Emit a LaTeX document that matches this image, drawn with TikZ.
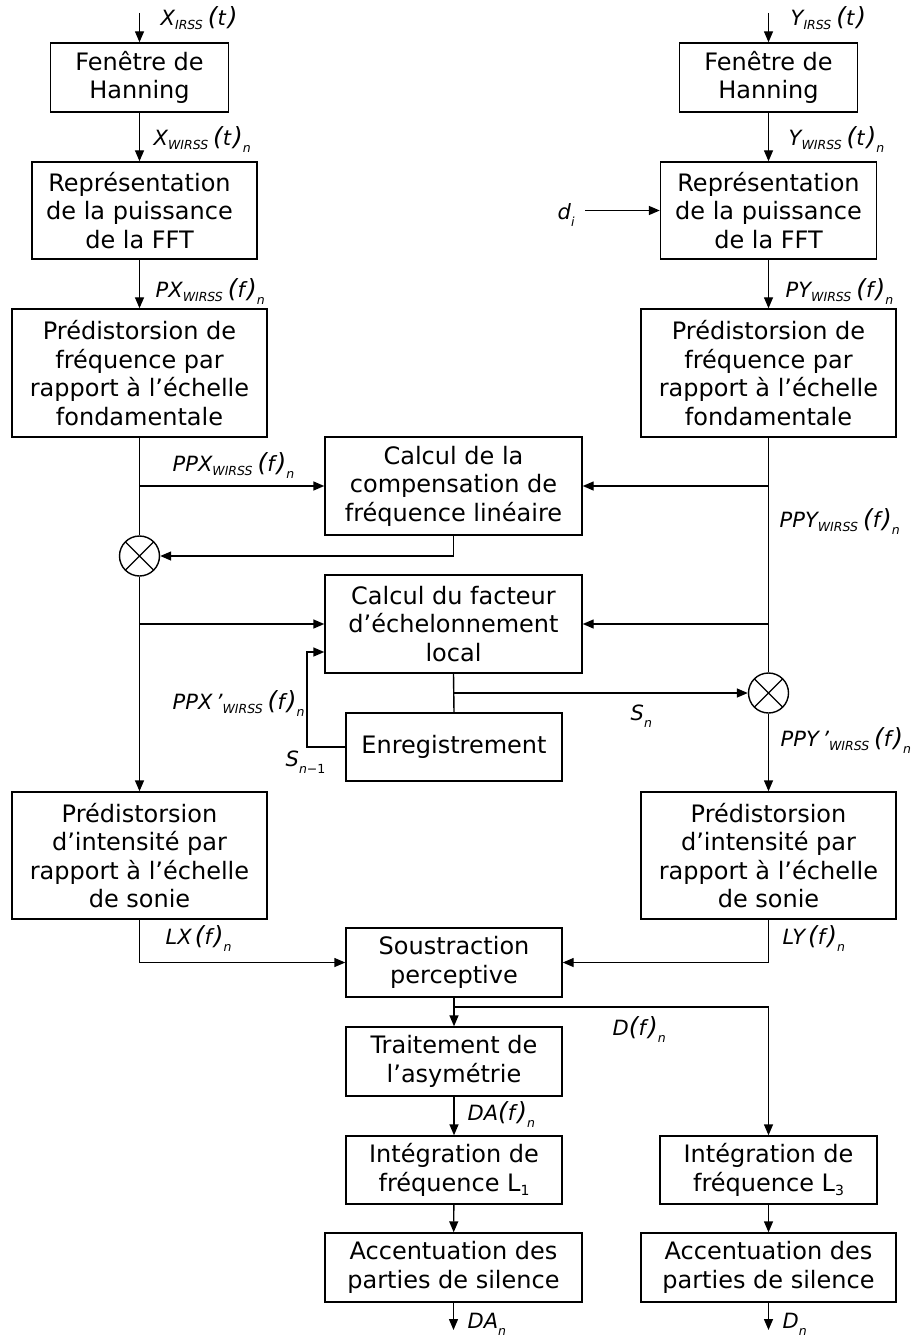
\documentclass[tikz,border=0pt]{standalone}
\usepackage{fontspec}
\setmainfont{DejaVu Sans}
\usetikzlibrary{arrows.meta}
\newcommand{\sbx}[1]{\raisebox{-4pt}{\fontsize{12.5}{12.5}\selectfont\itshape #1}}
\newcommand{\sbn}[1]{\raisebox{-7pt}{\fontsize{12.5}{12.5}\selectfont\itshape #1}}
\newcommand{\bpl}{{\fontsize{25}{25}\selectfont(}}
\newcommand{\bpr}{{\fontsize{25}{25}\selectfont)}}
\newcommand{\sig}[4]{#1\sbx{#2}\hspace{5pt}\bpl#3\hspace{2pt}\bpr\sbn{#4}}
\begin{document}
\begin{tikzpicture}[x=1pt,y=-1pt,line width=1.4pt,
  >={Triangle[length=11pt,width=9pt]},
  box/.style={draw,rectangle,align=center,inner sep=0pt,font=\fontsize{24}{28.5}\selectfont},
  lbl/.style={anchor=west,inner sep=0pt,font=\fontsize{21}{21}\selectfont\itshape},
  mul/.style={draw,circle,minimum size=40pt,inner sep=0pt,
    path picture={\draw[line width=1.3pt] (path picture bounding box.north west) -- (path picture bounding box.south east)
      (path picture bounding box.north east) -- (path picture bounding box.south west);}}]
\useasboundingbox (0,0) rectangle (911,1337);

% boxes
\node[box,minimum width=178pt,minimum height=69pt] (fenL) at (139.5,77.5) {Fenêtre de\\Hanning};
\node[box,minimum width=178pt,minimum height=69pt] (fenR) at (768.5,77.5) {Fenêtre de\\Hanning};
\node[box,minimum width=225pt,minimum height=97pt] (repL) at (144.5,210.5) {};
\node[align=center,inner sep=0pt,font=\fontsize{24}{28.5}\selectfont] (repLt) at (139.5,210.5) {Représentation\\de la puissance\\de la FFT};
\node[box,minimum width=216pt,minimum height=97pt] (repR) at (768.5,210.5) {Représentation\\de la puissance\\de la FFT};
\node[box,minimum width=255pt,minimum height=128pt] (preL) at (139.5,373) {Prédistorsion de\\fréquence par\\rapport à l’échelle\\fondamentale};
\node[box,minimum width=255pt,minimum height=128pt] (preR) at (768.5,373) {Prédistorsion de\\fréquence par\\rapport à l’échelle\\fondamentale};
\node[box,minimum width=257pt,minimum height=98pt] (comp) at (453.5,486) {Calcul de la\\compensation de\\fréquence linéaire};
\node[box,minimum width=257pt,minimum height=98pt] (fact) at (453.5,624) {Calcul du facteur\\d’échelonnement\\local};
\node[box,minimum width=216pt,minimum height=68pt] (enr) at (454,747) {Enregistrement};
\node[box,minimum width=255pt,minimum height=127pt] (intL) at (139.5,855.5) {Prédistorsion\\d’intensité par\\rapport à l’échelle\\de sonie};
\node[box,minimum width=255pt,minimum height=127pt] (intR) at (768.5,855.5) {Prédistorsion\\d’intensité par\\rapport à l’échelle\\de sonie};
\node[box,minimum width=216pt,minimum height=69pt] (sous) at (454,962.5) {Soustraction\\perceptive};
\node[box,minimum width=216pt,minimum height=69pt] (trait) at (454,1061.5) {Traitement de\\l’asymétrie};
\node[box,minimum width=216pt,minimum height=68pt] (igL) at (454,1170) {Intégration de\\fréquence L\raisebox{-4pt}{\fontsize{14}{14}\selectfont 1}};
\node[box,minimum width=217pt,minimum height=68pt] (igR) at (768.5,1170) {Intégration de\\fréquence L\raisebox{-4pt}{\fontsize{14}{14}\selectfont 3}};
\node[box,minimum width=257pt,minimum height=69pt] (accL) at (453.5,1267.5) {Accentuation des\\parties de silence};
\node[box,minimum width=255pt,minimum height=69pt] (accR) at (768.5,1267.5) {Accentuation des\\parties de silence};

% multipliers
\node[mul] (mulL) at (139.5,556) {};
\node[mul] (mulR) at (768.5,693) {};

% free ends
\coordinate (inL) at (139.5,13);
\coordinate (inR) at (768.5,13);
\coordinate (di) at (585,210.5);
\coordinate (bL1) at (139.5,486);
\coordinate (bL2) at (139.5,624);
\coordinate (bR1) at (768.5,486);
\coordinate (bR2) at (768.5,624);
\coordinate (bS) at (453.5,693);
\coordinate (fb) at (307,652);
\coordinate (bD) at (454,1007);
\coordinate (outL) at (453.5,1330);
\coordinate (outR) at (768.5,1330);

% connectors left
\draw[->] (inL) -- (fenL.north);
\draw[->] (fenL.south) -- (fenL.south |- repL.north);
\draw[->] (fenL.south |- repL.south) -- (preL.north);
\draw (preL.south) -- (mulL.north);
\draw[->] (bL1) -- (comp.west);
\draw[->] (comp.south) |- (mulL.east);
\draw[->] (mulL.south) -- (intL.north);
\draw[->] (bL2) -- (fact.west);
% right
\draw[->] (inR) -- (fenR.north);
\draw[->] (fenR) -- (repR);
\draw[->] (di) -- (repR.west);
\draw[->] (repR) -- (preR);
\draw (preR.south) -- (mulR.north);
\draw[->] (bR1) -- (comp.east);
\draw[->] (bR2) -- (fact.east);
\draw[->] (mulR.south) -- (intR.north);
% middle
\draw (fact.south) -- (enr.north);
\draw[->] (bS) -- (mulR.west);
\draw[->] (enr.west) -| (fb) -- (fb -| fact.west);
\draw[->] (intL.south) |- (sous.west);
\draw[->] (intR.south) |- (sous.east);
\draw[->] (sous.south) -- (trait.north);
\draw[->] (bD) -| (igR.north);
\draw[->] (trait) -- (igL);
\draw[->] (igL) -- (accL);
\draw[->] (accL.south) -- (outL);
\draw[->] (igR) -- (accR);
\draw[->] (accR.south) -- (outR);

% labels
\node[lbl] (l1) at (160,20) {\sig{X}{IRSS}{t}{}};
\node[lbl] (l2) at (790,20) {\sig{Y}{IRSS}{t}{}};
\node[lbl] (l3) at (153,140) {\sig{X}{WIRSS}{t}{n}};
\node[lbl] (l4) at (788,140) {\sig{Y}{WIRSS}{t}{n}};
\node[lbl] (l5) at (155,292) {\sig{PX}{WIRSS}{f}{n}};
\node[lbl] (l6) at (785,292) {\sig{PY}{WIRSS}{f}{n}};
\node[lbl] (l7) at (557,215) {d\sbn{i}};
\node[lbl] (l8) at (172,466) {\sig{PPX}{WIRSS}{f}{n}};
\node[lbl] (l9) at (779,522) {\sig{PPY}{WIRSS}{f}{n}};
\node[lbl] (l10) at (172,704) {\sig{PPX\,'}{WIRSS}{f}{n}};
\node[lbl] (l11) at (285,762) {S\sbn{n\upshape −1}};
\node[lbl] (l12) at (630,716) {S\sbn{n}};
\node[lbl] (l13) at (780,741) {\sig{PPY\,'}{WIRSS}{f}{n}};
\node[lbl] (l14) at (165,939) {LX\hspace{3pt}\bpl f\hspace{2pt}\bpr\sbn{n}};
\node[lbl] (l15) at (782,939) {LY\hspace{3pt}\bpl f\hspace{2pt}\bpr\sbn{n}};
\node[lbl] (l16) at (612,1030) {D\bpl f\hspace{2pt}\bpr\sbn{n}};
\node[lbl] (l17) at (467,1115) {DA\bpl f\hspace{2pt}\bpr\sbn{n}};
\node[lbl] (l18) at (467,1324) {DA\sbn{n}};
\node[lbl] (l19) at (782,1324) {D\sbn{n}};
\end{tikzpicture}
\end{document}
